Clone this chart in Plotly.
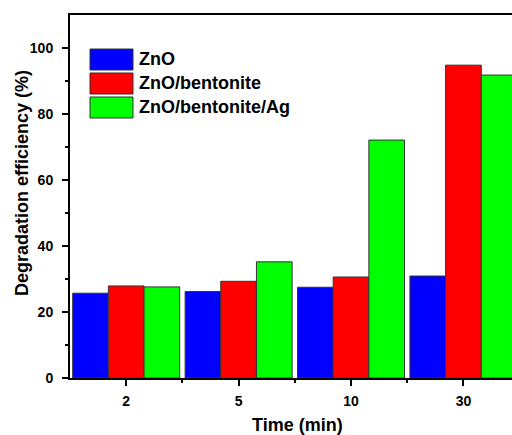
import plotly.graph_objects as go

categories = ["2", "5", "10", "30"]
series_names = ["ZnO", "ZnO/bentonite", "ZnO/bentonite/Ag"]
zno = [25.7, 26.2, 27.5, 30.9]
zno_bent = [27.9, 29.3, 30.6, 94.8]
zno_bent_ag = [27.6, 35.2, 72.1, 91.8]
y_ticks = [0, 20, 40, 60, 80, 100]
colors = ["#0000FF", "#FF0000", "#00FF00"]

xpos = list(range(len(categories)))
fig = go.Figure()
for name, vals, col in zip(series_names, [zno, zno_bent, zno_bent_ag], colors):
    fig.add_trace(go.Bar(x=xpos, y=vals, name=name,
                         marker=dict(color=col, line=dict(color="#333333", width=1)),
                         showlegend=False))

FONT = "Liberation Sans, Arial, sans-serif"
W, H = 512, 435
L, R, T, B = 70, 0, 15, 57
pw, ph = W - L - R, H - T - B

def px_x(p):
    return (p - L) / pw

def px_y(p):
    return (H - B - p) / ph

# custom legend (large swatches like the original)
box_tops = [49, 73, 97]
for name, col, top in zip(series_names, colors, box_tops):
    y1 = px_y(top)
    y0 = px_y(top + 21)
    fig.add_shape(type="rect", xref="paper", yref="paper", x0=px_x(90), x1=px_x(133), y0=y0, y1=y1,
                  fillcolor=col, line=dict(color="#333333", width=1))
    fig.add_annotation(xref="paper", yref="paper", x=px_x(137), y=(y0 + y1) / 2,
                       text="<b>" + name + "</b>", showarrow=False, xanchor="left", yanchor="middle",
                       font=dict(family=FONT, size=18, color="black"))

# axis titles
fig.add_annotation(xref="paper", yref="paper", x=px_x(297), y=px_y(425),
                   text="<b>Time (min)</b>", showarrow=False, xanchor="center", yanchor="middle",
                   font=dict(family=FONT, size=18, color="black"))
fig.add_annotation(xref="paper", yref="paper", x=px_x(22), y=px_y(183), textangle=-90,
                   text="<b>Degradation efficiency (%)</b>", showarrow=False, xanchor="center", yanchor="middle",
                   font=dict(family=FONT, size=18, color="black"))

fig.update_layout(
    width=W, height=H,
    margin=dict(l=L, r=R, t=T, b=B, pad=0),
    paper_bgcolor="white", plot_bgcolor="white",
    barmode="group", bargap=0.048, bargroupgap=0,
    font=dict(family=FONT, size=14, color="black"),
    xaxis=dict(
        range=[-0.5, 3.432], tickvals=xpos, ticktext=["<b>" + c + "</b>" for c in categories],
        showline=True, linecolor="black", linewidth=2, mirror=True,
        ticks="outside", ticklen=6, tickwidth=2, tickcolor="black", ticklabelstandoff=3,
        minor=dict(tickvals=[0.5, 1.5, 2.5], ticks="outside", ticklen=3, tickwidth=2, tickcolor="black"),
        showgrid=False, zeroline=False,
        tickfont=dict(family=FONT, size=14),
    ),
    yaxis=dict(
        range=[0, 110], tickvals=y_ticks,
        ticktext=["<b>%d</b>" % v for v in y_ticks],
        showline=True, linecolor="black", linewidth=2, mirror=False,
        ticks="outside", ticklen=6, tickwidth=2, tickcolor="black", ticklabelstandoff=6,
        minor=dict(tickvals=[10, 30, 50, 70, 90], ticks="outside", ticklen=3, tickwidth=2, tickcolor="black"),
        showgrid=False, zeroline=False,
        tickfont=dict(family=FONT, size=14),
    ),
)

fig.write_html("out.html", config={"displayModeBar": False},
               post_script="document.body.style.margin='0px';")
